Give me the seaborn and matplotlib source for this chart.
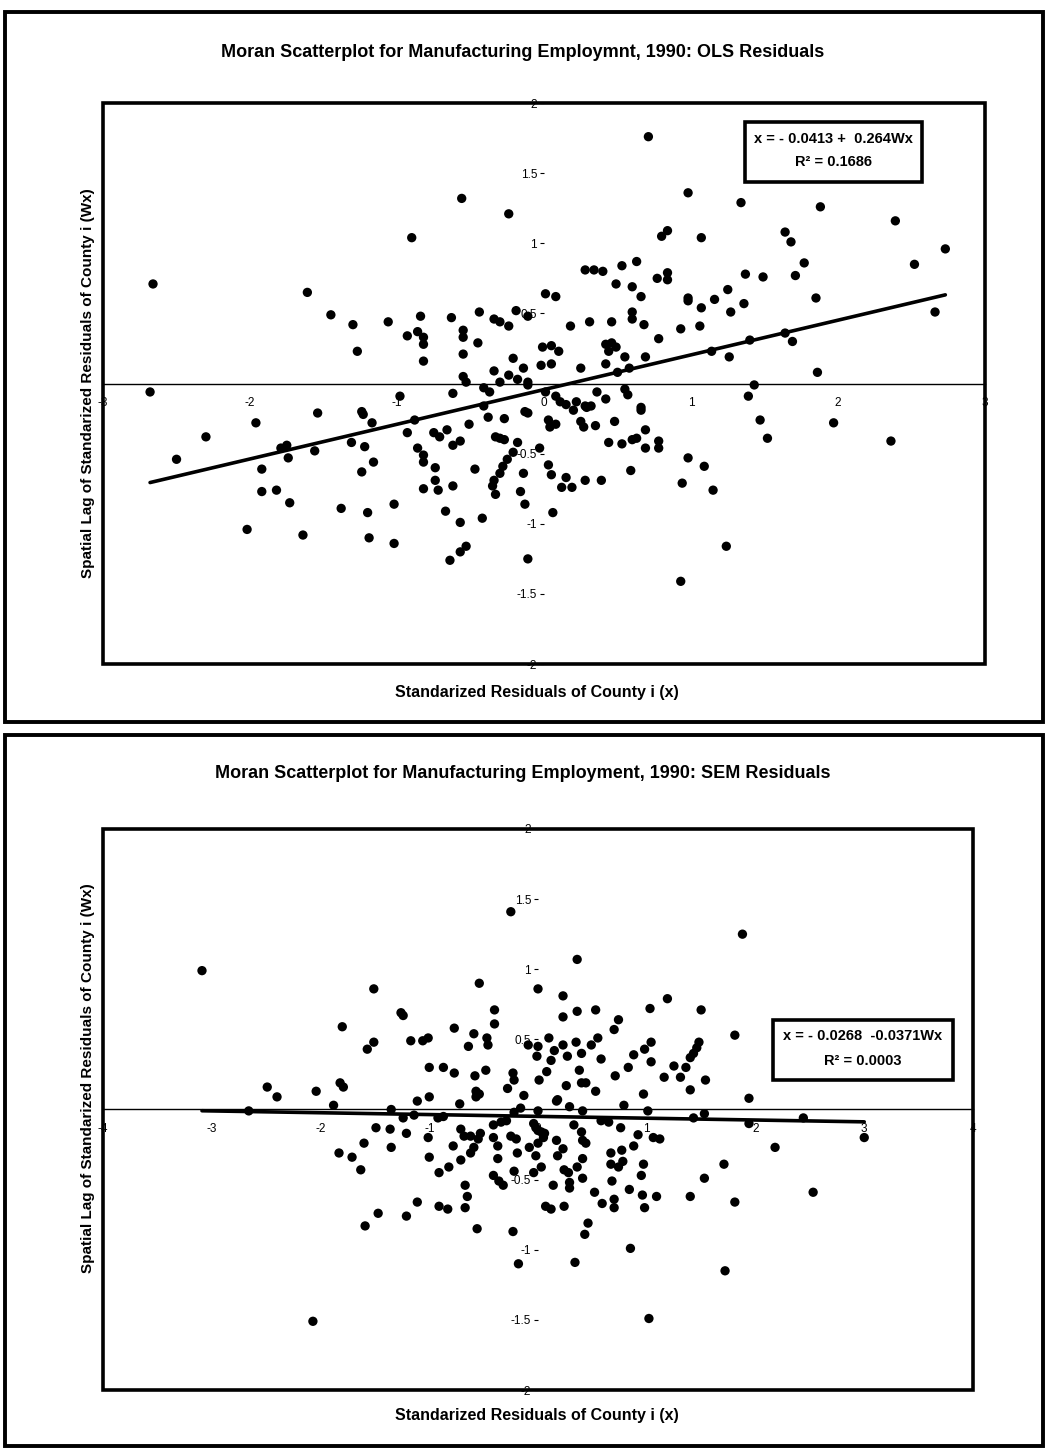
import numpy as np
import pandas as pd
import seaborn as sns
import matplotlib.pyplot as plt
from matplotlib.patches import Rectangle

sns.set_theme(style="white")
plt.rcParams['font.family'] = ['Liberation Sans', 'DejaVu Sans']
plt.rcParams['text.color'] = 'black'

# OLS residuals (x) and their spatial lag (Wx)
ols_x = [
    0.71, -0.56, 0.98, 1.34, 1.88, 2.39, -0.24, -0.90, 0.80, 0.84,
    1.07, 1.64, 1.68, 2.73, 2.52, 1.77, 1.71, 1.37, 1.49, 0.28,
    0.34, 0.40, 0.53, 0.63, 0.49, 0.60, 0.66, 0.77, 0.84, 0.84,
    -2.66, -1.61, -1.45, -1.30, -1.06, -0.84, -0.63, -0.44, -0.34, -0.30,
    -0.24, -0.19, -0.11, 0.01, 0.08, 0.98, 0.98, 1.07, 1.16, 1.25,
    1.27, 1.36, 1.85, 2.66, 0.18, 0.31, 0.46, 0.60, 0.60, 0.68,
    0.78, 0.93, 1.06, -1.27, -0.93, -0.86, -0.82, -0.82, -0.82, -0.55,
    -0.55, -0.45, -0.55, -0.21, -0.14, -0.34, -0.24, -0.30, -0.18, -0.11,
    -0.55, -0.53, -0.01, 0.05, 0.10, -0.02, 0.05, 0.42, 0.46, 0.49,
    0.44, 0.55, 0.69, 0.25, 0.42, 0.58, 1.14, 1.26, 1.40, 1.64,
    1.69, 1.86, 0.50, -0.41, -2.68, -0.62, -0.98, -0.37, 1.43, 1.39,
    0.01, 0.08, 0.11, 0.15, 0.22, 0.28, 0.36, 0.42, 0.55, 0.57,
    0.66, -1.96, -2.30, -2.50, -1.54, -1.24, -1.23, -1.17, -1.75, -1.74,
    -1.79, -1.56, -1.31, -1.22, -1.16, -1.24, -1.92, -1.92, -1.82, -1.73,
    -1.38, -1.20, -2.02, -1.64, -1.19, -1.02, -1.02, -0.93, -0.88, -0.75,
    -0.71, -0.66, -0.62, -0.57, -0.51, -0.86, -0.82, -0.82, -0.74, -0.74,
    -0.72, -0.82, -0.62, -0.47, -0.67, -0.57, -0.42, -0.64, -0.57, -0.53,
    -0.38, -0.41, -0.27, -0.33, -0.30, -0.27, -0.18, -0.21, -0.25, -0.28,
    -0.30, -0.34, -0.35, -0.33, -0.13, -0.11, -0.14, -0.16, -0.13, -0.11,
    -0.03, 0.03, 0.04, 0.03, 0.05, 0.06, -0.11, 0.20, 0.29, 0.32,
    0.08, 0.25, 0.27, 0.35, 0.48, 0.69, 0.44, 0.53, 0.60, 0.63,
    0.69, 0.78, 0.78, 0.12, 0.15, 0.19, 0.28, 0.39, 0.59, 0.98,
    1.09, 0.94, 1.15, 1.24, 0.93, 1.47, 1.52, 1.97, 2.36, 0.66,
]
ols_wx = [
    1.76, 1.32, 1.36, 1.29, 1.26, 1.16, 1.21, 1.04, 1.05, 1.09,
    1.04, 1.08, 1.01, 0.96, 0.85, 0.86, 0.77, 0.78, 0.76, 0.81,
    0.81, 0.80, 0.84, 0.87, 0.71, 0.69, 0.62, 0.75, 0.79, 0.74,
    0.71, 0.65, 0.49, 0.42, 0.44, 0.48, 0.47, 0.51, 0.46, 0.44,
    0.41, 0.52, 0.48, 0.64, 0.62, 0.61, 0.59, 0.54, 0.60, 0.67,
    0.51, 0.57, 0.61, 0.51, 0.41, 0.44, 0.44, 0.51, 0.46, 0.42,
    0.32, 0.39, 0.41, 0.23, 0.34, 0.37, 0.33, 0.28, 0.16, 0.38,
    0.33, 0.29, 0.21, 0.18, 0.11, 0.09, 0.06, 0.01, 0.03, 0.01,
    0.05, 0.01, 0.26, 0.27, 0.23, 0.13, 0.14, 0.28, 0.29, 0.26,
    0.23, 0.19, 0.19, 0.11, 0.14, 0.11, 0.23, 0.19, 0.31, 0.36,
    0.30, 0.08, 0.08, -0.03, -0.06, -0.07, -0.09, -0.06, -0.01, -0.09,
    -0.06, -0.09, -0.13, -0.15, -0.13, -0.16, -0.06, -0.11, -0.04, -0.08,
    -0.17, -0.28, -0.38, -0.54, -0.21, -0.20, -0.22, -0.28, -0.44, -0.53,
    -0.46, -0.48, -0.42, -0.45, -0.56, -0.63, -0.61, -0.77, -0.76, -0.85,
    -0.89, -0.92, -1.04, -1.08, -1.10, -0.86, -1.14, -0.35, -0.26, -0.35,
    -0.38, -0.33, -0.44, -0.41, -0.29, -0.46, -0.51, -0.56, -0.60, -0.69,
    -0.76, -0.75, -0.73, -0.61, -0.91, -0.99, -0.96, -1.26, -1.20, -1.16,
    -0.24, -0.16, -0.25, -0.38, -0.39, -0.40, -0.42, -0.49, -0.54, -0.59,
    -0.64, -0.69, -0.73, -0.79, -0.20, -0.21, -0.64, -0.77, -0.86, -1.25,
    -0.46, -0.26, -0.31, -0.58, -0.65, -0.92, -0.01, -0.19, -0.17, -0.16,
    -0.29, -0.27, -0.31, -0.30, -0.27, -0.33, -0.42, -0.43, -0.40, -0.39,
    -0.46, -0.41, -0.46, -0.74, -0.67, -0.74, -0.69, -0.69, -0.62, -0.53,
    -0.59, -0.71, -0.76, -1.16, -1.41, -0.26, -0.39, -0.28, -0.41, -0.19,
]

# SEM residuals (x) and their spatial lag (Wx)
sem_x = [
    -0.25, -3.09, -1.51, -0.54, 0.00, 0.23, -1.26, -1.24, -0.40, -0.40,
    -1.80, -0.77, -0.59, -0.47, -0.46, -0.64, -1.17, -1.06, -1.01, -1.51,
    -1.57, 0.10, -0.09, 0.00, -0.01, 0.15, 0.12, -1.00, -0.87, -0.77,
    -0.58, -0.48, -0.23, -0.22, 0.08, 0.01, -2.49, -2.40, -2.04, -1.82,
    -1.79, -1.88, -1.11, -1.00, -0.72, -0.57, -0.54, -0.57, -0.28, -0.13,
    0.17, -2.66, -1.35, 1.88, 0.36, 1.19, 0.23, 0.36, 0.53, 1.03,
    1.50, 0.74, 0.70, 1.81, 0.23, 0.35, 0.49, 0.55, 0.27, 0.40,
    0.58, 1.04, 0.98, 0.88, 0.83, 1.04, 1.48, 1.46, 1.43, 1.40,
    1.25, 1.36, 1.16, 1.31, 1.54, 1.40, 0.71, 0.38, 0.40, 0.44,
    0.26, 0.53, 0.18, 0.29, 0.79, 0.97, 1.01, 1.94, 1.53, -1.24,
    -1.14, -0.92, -0.87, -1.49, -1.36, -1.21, -1.01, -1.60, -1.35, -1.83,
    -1.71, -1.63, -1.00, -0.78, -0.71, -0.68, -0.62, -0.55, -0.53, -0.59,
    -0.62, -0.41, -0.34, -0.29, -0.41, -0.25, -0.20, -0.37, -0.37, -0.19,
    -0.08, -0.02, 0.03, 0.05, 0.00, -0.82, -0.91, -0.71, -0.41, -0.36,
    -0.32, -0.22, -0.04, 0.03, 0.14, -0.67, -0.65, -0.67, -1.11, -0.91,
    -0.83, -1.47, -1.21, -1.59, -0.56, -0.23, 0.07, 0.12, -0.18, -2.07,
    -0.22, -0.16, 0.00, 0.41, 0.58, 0.65, 1.43, 2.44, 1.94, -0.04,
    0.00, 0.06, 0.17, 0.33, 0.40, 0.41, 0.44, 0.76, 0.92, 1.06,
    1.12, 0.88, -0.02, 0.23, 0.18, 0.41, 0.67, 0.77, 0.67, 0.74,
    0.78, 0.36, 0.24, 0.28, 0.97, 0.95, 0.29, 0.29, 0.41, 0.68,
    0.52, 0.84, 0.96, 1.09, 0.59, 0.70, 0.70, 0.98, 0.24, 1.40,
    1.53, 1.71, 1.81, 2.18, 2.53, 3.00, 0.46, 0.43, 0.85, 0.34,
    1.72, 1.02,
]
sem_wx = [
    1.41, 0.99, 0.86, 0.90, 0.86, 0.81, 0.69, 0.67, 0.71, 0.61,
    0.59, 0.58, 0.54, 0.51, 0.46, 0.45, 0.49, 0.49, 0.51, 0.48,
    0.43, 0.51, 0.46, 0.45, 0.38, 0.42, 0.35, 0.30, 0.30, 0.26,
    0.24, 0.28, 0.26, 0.21, 0.27, 0.21, 0.16, 0.09, 0.13, 0.19,
    0.16, 0.03, 0.06, 0.09, 0.04, 0.13, 0.11, 0.09, 0.15, 0.10,
    0.06, -0.01, 0.00, 1.25, 1.07, 0.79, 0.66, 0.70, 0.71, 0.72,
    0.71, 0.64, 0.57, 0.53, 0.46, 0.48, 0.46, 0.51, 0.38, 0.40,
    0.36, 0.48, 0.43, 0.39, 0.30, 0.34, 0.48, 0.44, 0.40, 0.37,
    0.31, 0.30, 0.23, 0.23, 0.21, 0.14, 0.24, 0.28, 0.19, 0.19,
    0.17, 0.13, 0.07, 0.02, 0.03, 0.11, -0.01, 0.08, -0.03, -0.06,
    -0.04, -0.06, -0.05, -0.13, -0.14, -0.17, -0.20, -0.24, -0.27, -0.31,
    -0.34, -0.43, -0.34, -0.26, -0.14, -0.19, -0.19, -0.21, -0.17, -0.27,
    -0.31, -0.11, -0.09, -0.08, -0.20, -0.19, -0.21, -0.26, -0.35, -0.31,
    -0.27, -0.13, -0.16, -0.20, -0.24, -0.41, -0.45, -0.36, -0.47, -0.51,
    -0.54, -0.44, -0.45, -0.41, -0.54, -0.54, -0.62, -0.70, -0.66, -0.69,
    -0.71, -0.74, -0.76, -0.83, -0.85, -0.87, -0.69, -0.71, -1.10, -1.51,
    -0.02, 0.01, -0.01, -0.01, -0.08, -0.09, -0.06, -0.06, -0.10, -0.10,
    -0.15, -0.17, -0.22, -0.11, -0.16, -0.22, -0.24, -0.13, -0.18, -0.20,
    -0.21, -0.26, -0.33, -0.28, -0.33, -0.35, -0.31, -0.29, -0.39, -0.41,
    -0.37, -0.41, -0.43, -0.45, -0.39, -0.47, -0.52, -0.56, -0.49, -0.51,
    -0.59, -0.57, -0.61, -0.62, -0.67, -0.64, -0.70, -0.70, -0.69, -0.62,
    -0.49, -0.39, -0.66, -0.27, -0.59, -0.20, -0.81, -0.89, -0.99, -1.09,
    -1.15, -1.49,
]

titles = ["Moran Scatterplot for Manufacturing Employmnt, 1990: OLS Residuals",
          "Moran Scatterplot for Manufacturing Employment, 1990: SEM Residuals"]
equations = [("x = - 0.0413 +  0.264Wx", "R² = 0.1686"),
             ("x = - 0.0268  -0.0371Wx", "R² = 0.0003")]
xlabel = "Standarized Residuals of County i (x)"
ylabel = "Spatial Lag of Standarized Residuals of County i (Wx)"
x_limits = [(-3, 3), (-4, 4)]
y_ticks = [-2, -1.5, -1, -0.5, 0.5, 1, 1.5, 2]

fig = plt.figure(figsize=(10.46, 14.49), dpi=100)

# panel layout (figure fractions)
axes_pos = [[0.0985, 0.5417, 0.8432, 0.3872], [0.0985, 0.0407, 0.8317, 0.3872]]
frames = [(0.0048, 0.5017, 0.9922, 0.4900), (0.0048, 0.0021, 0.9922, 0.4907)]
title_y = [0.9641, 0.4665]
xlabel_y = [0.5224, 0.0228]
ylabel_y = [0.7357, 0.2560]
eq_box = [(0.728, 0.859, 0.201, 0.107), (0.770, 0.553, 0.207, 0.107)]
eq_lines = [(0.828, 0.936, 0.895), (0.873, 0.631, 0.586)]

data = [pd.DataFrame({"x": ols_x, "wx": ols_wx}),
        pd.DataFrame({"x": sem_x, "wx": sem_wx})]

for i in range(2):
    df = data[i]
    fig.add_artist(Rectangle(frames[i][:2], frames[i][2], frames[i][3],
                             transform=fig.transFigure, fill=False,
                             lw=2.8, ec="black"))
    ax = fig.add_axes(axes_pos[i])
    ax.set_facecolor("white")

    sns.scatterplot(data=df, x="x", y="wx", ax=ax, color="black", s=45,
                    edgecolor="none", zorder=3)
    sns.regplot(data=df, x="x", y="wx", ax=ax, scatter=False, ci=None,
                color="black", line_kws={"lw": 2.6, "zorder": 4})

    ax.set_xlim(*x_limits[i])
    ax.set_ylim(-2, 2)
    ax.set_xlabel("")
    ax.set_ylabel("")

    # axes crossing at the origin
    ax.spines["bottom"].set_position(("data", 0))
    ax.spines["bottom"].set_linewidth(1.0)
    ax.spines["bottom"].set_color("black")
    ax.spines["left"].set_position(("data", 0))
    ax.spines["left"].set_color("none")
    ax.spines["top"].set_visible(False)
    ax.spines["right"].set_visible(False)

    lo, hi = x_limits[i]
    ax.set_xticks(range(lo, hi + 1))
    ax.set_xticklabels([str(t) for t in range(lo, hi + 1)])
    ax.set_yticks(y_ticks)
    ax.set_yticklabels(["%g" % t for t in y_ticks])
    ax.tick_params(axis="x", length=0, pad=10, labelsize=8.5, colors="black")
    ax.tick_params(axis="y", length=3, width=0.8, direction="out", pad=2,
                   labelsize=8.5, colors="black", left=True)

    ax.add_patch(Rectangle((0, 0), 1, 1, transform=ax.transAxes, fill=False,
                           lw=2.6, ec="black", clip_on=False, zorder=6))

    # regression equation box
    bx, by, bw, bh = eq_box[i]
    ax.add_patch(Rectangle((bx, by), bw, bh, transform=ax.transAxes,
                           fc="white", ec="black", lw=2.6, zorder=7))
    cx, y1, y2 = eq_lines[i]
    ax.text(cx, y1, equations[i][0], transform=ax.transAxes, ha="center",
            va="center", fontsize=10.5, fontweight="bold", zorder=8)
    ax.text(cx, y2, equations[i][1], transform=ax.transAxes, ha="center",
            va="center", fontsize=10.5, fontweight="bold", zorder=8)

    fig.text(0.5, title_y[i], titles[i], ha="center", va="center",
             fontsize=13, fontweight="bold")
    fig.text(0.513, xlabel_y[i], xlabel, ha="center", va="center",
             fontsize=11.5, fontweight="bold")
    fig.text(0.084, ylabel_y[i], ylabel, ha="center", va="center",
             rotation=90, fontsize=11, fontweight="bold")

fig.savefig("out.png", dpi=100, facecolor="white")
plt.close(fig)
